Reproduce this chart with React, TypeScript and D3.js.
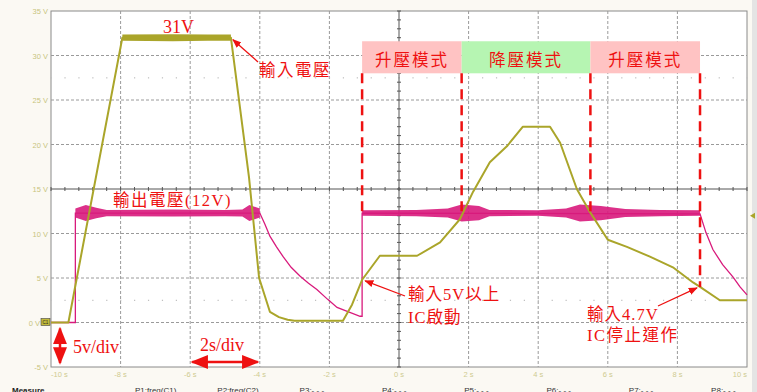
import * as d3 from "d3";

// time (s) / volts
const inputT = [-10, -9.5, -7.95, -4.83, -4.31, -4.02, -3.71, -3.45, -3.2, -3.0, -1.61, -1.35, -1.06, -0.55, 0.52, 1.18, 1.75, 2.13, 2.61, 3.1, 3.56, 4.34, 4.63, 5.11, 5.49, 6.0, 6.55, 7.21, 7.87, 8.45, 8.65, 9.22, 10];
const inputV = [0, 0, 32, 32, 16.3, 5, 1.2, 0.6, 0.3, 0.2, 0.2, 2.0, 4.8, 7.5, 7.5, 9, 11.6, 14.7, 18, 19.8, 22, 22, 20.2, 15, 12.4, 9.3, 8.5, 7.4, 6.2, 4.5, 4.0, 2.5, 2.5];

const outputT = [-10, -9.3, -9.3, -4.0, -3.85, -3.71, -3.52, -3.33, -3.1, -2.84, -2.6, -2.36, -2.05, -1.78, -1.45, -1.12, -1.06, -1.06, 8.65, 8.82, 9.02, 9.3, 9.6, 9.8, 10];
const outputV = [0, 0, 12.3, 12.3, 11.0, 9.7, 8.5, 7.4, 6.2, 5.2, 4.4, 3.7, 2.6, 1.7, 1.2, 0.7, 0.7, 12.3, 12.2, 10.1, 8.2, 6.5, 5.1, 4.0, 3.1];

// noise envelope (half-width in V) on the flat parts
const plateauNoise: [number, number][] = [[-7.95, 0.35], [-6.5, 0.4], [-5.5, 0.35], [-4.83, 0.35]];
const outNoise1: [number, number][] = [[-9.3, 0.5], [-9.0, 0.9], [-8.7, 0.6], [-8.4, 0.35], [-6.5, 0.4], [-5, 0.35], [-4.5, 0.4], [-4.3, 0.9], [-4.0, 0.5]];
const outNoise2: [number, number][] = [[-1.06, 0.3], [0.5, 0.35], [1.4, 0.5], [1.8, 0.95], [2.3, 0.8], [2.6, 0.35], [4.0, 0.3], [4.8, 0.5], [5.2, 0.95], [5.8, 0.8], [6.5, 0.45], [7.5, 0.35], [8.65, 0.3]];

const modes = [
  { label: "升壓模式", start: -1.06, end: 1.8, fill: "#ffc3c3" },
  { label: "降壓模式", start: 1.8, end: 5.5, fill: "#b6f5b2" },
  { label: "升壓模式", start: 5.5, end: 8.65, fill: "#ffc3c3" },
];
const markerStops = [12.3, 11.9, 11.9, 4.0]; // where each dashed marker ends (V)

const xTicks = [-10, -8, -6, -4, -2, 0, 2, 4, 6, 8, 10];
const yTicks = [35, 30, 25, 20, 15, 10, 5, 0, -5];
const measureLabels = ["P1:freq(C1)", "P2:freq(C2)", "P3:- - -", "P4:- - -", "P5:- - -", "P6:- - -", "P7:- - -", "P8:- - -"];

const W = 757, H = 392;
const x = d3.scaleLinear().domain([-10, 10]).range([51, 747]);
const y = d3.scaleLinear().domain([-5, 35]).range([367, 11]);

const YEL = "#aaa52a";
const MAG = "#d81a7c";
const RED = "#ee1111";
const serif = "'Liberation Serif', 'Noto Sans CJK TC', serif";

const line = d3.line<[number, number]>().x(d => x(d[0])).y(d => y(d[1]));
const band = (pts: [number, number][], center: number) =>
  d3.area<[number, number]>().x(d => x(d[0])).y0(d => y(center - d[1])).y1(d => y(center + d[1]))(pts) || "";

export default function App() {
  const inPts = inputT.map((t, i) => [t, inputV[i]] as [number, number]);
  const outPts = outputT.map((t, i) => [t, outputV[i]] as [number, number]);
  const minorX = d3.range(-10, 10.01, 0.4);
  const minorY = d3.range(-5, 35.01, 1);
  const bounds = [modes[0].start, modes[1].start, modes[2].start, modes[2].end];

  return (
    <svg width={W} height={H} style={{ position: "absolute", left: 0, top: 0, background: "#fbf9f3" }} fontFamily="Arial, sans-serif">
      <defs>
        <marker id="ah" viewBox="0 0 10 10" refX="9" refY="5" markerWidth="7" markerHeight="7" orient="auto-start-reverse">
          <path d="M0,1 L10,5 L0,9 z" fill={RED} />
        </marker>
      </defs>
      <rect x={752} y={0} width={5} height={H} fill="#e4e4e4" />
      <rect x={x(-10)} y={y(35)} width={x(10) - x(-10)} height={y(-5) - y(35)} fill="#fff" stroke="#8a8a8a" />

      {/* grid */}
      {xTicks.filter(t => t !== 0 && Math.abs(t) !== 10).map(t => (
        <line key={"gx" + t} x1={x(t)} x2={x(t)} y1={y(35)} y2={y(-5)} stroke="#9a9a9a" strokeDasharray="3,2" />
      ))}
      {yTicks.filter(v => v !== 15 && v !== 35 && v !== -5).map(v => (
        <line key={"gy" + v} x1={x(-10)} x2={x(10)} y1={y(v)} y2={y(v)} stroke="#9a9a9a" strokeDasharray="3,2" />
      ))}
      {[27.5, 2.5].map(v => minorX.map(t => (
        <rect key={"d" + v + t} x={x(t) - 0.5} y={y(v) - 0.5} width={1.2} height={1.2} fill="#bdbdbd" />
      )))}
      <line x1={x(-10)} x2={x(10)} y1={y(15)} y2={y(15)} stroke="#555" />
      <line x1={x(0)} x2={x(0)} y1={y(35)} y2={y(-5)} stroke="#555" />
      {minorX.map(t => <line key={"mx" + t} x1={x(t)} x2={x(t)} y1={y(15) - 2} y2={y(15) + 2} stroke="#555" />)}
      {minorY.map(v => <line key={"my" + v} x1={x(0) - 2} x2={x(0) + 2} y1={y(v)} y2={y(v)} stroke="#555" />)}

      {/* axis labels */}
      {yTicks.map(v => (
        <text key={"yl" + v} x={v === 0 ? 40 : 48} y={y(v) + 3} textAnchor="end" fontSize={7.5} fill="#c8c47e">{v} V</text>
      ))}
      {xTicks.map((t, i) => (
        <text key={"xl" + t} x={x(t)} y={377} fontSize={7.5} fill="#cfcb90"
          textAnchor={i === 0 ? "start" : i === xTicks.length - 1 ? "end" : "middle"}>{t} s</text>
      ))}

      {/* mode boxes */}
      {modes.map((m, i) => (
        <g key={"m" + i}>
          <rect x={x(m.start)} y={y(31.6)} width={x(m.end) - x(m.start)} height={y(28) - y(31.6)} fill={m.fill} />
          <text x={(x(m.start) + x(m.end)) / 2} y={y(28) - 7} textAnchor="middle" fontSize={16.5} letterSpacing={2} fill={RED} fontFamily={serif}>{m.label}</text>
        </g>
      ))}

      {/* traces */}
      <path d={band(outNoise1, 12.3)} fill={MAG} opacity={0.9} />
      <path d={band(outNoise2, 12.3)} fill={MAG} opacity={0.9} />
      <path d={line(outPts) || ""} fill="none" stroke={MAG} strokeWidth={1.3} />
      <path d={band(plateauNoise, 32)} fill={YEL} />
      <path d={line(inPts) || ""} fill="none" stroke={YEL} strokeWidth={2} strokeLinejoin="round" />

      {/* dashed mode markers */}
      {bounds.map((t, i) => (
        <line key={"b" + i} x1={x(t)} x2={x(t)} y1={y(28)} y2={y(markerStops[i])} stroke={RED} strokeWidth={2.5} strokeDasharray="10,6" />
      ))}

      {/* channel markers */}
      <rect x={41} y={y(0) - 4} width={9} height={7} fill="#c2ba3a" stroke="#444" strokeWidth={0.6} />
      <text x={45.5} y={y(0) + 1.5} fontSize={4.5} textAnchor="middle" fill="#222">C1</text>
      <path d={`M${x(10) + 3},${y(12)} l5,-3 v6 z`} fill={YEL} />

      {/* annotations */}
      <g fill={RED} fontFamily={serif}>
        <text x={163} y={33} fontSize={18}>31V</text>
        <text x={259} y={76} fontSize={16.5} letterSpacing={1.5}>輸入電壓</text>
        <text x={113} y={206} fontSize={16.5} letterSpacing={1.5}>輸出電壓(12V)</text>
        <text x={408} y={300} fontSize={16.5} letterSpacing={1}>輸入5V以上</text>
        <text x={408} y={323} fontSize={16.5} letterSpacing={1}>IC啟動</text>
        <text x={587} y={320} fontSize={16.5} letterSpacing={1}>輸入4.7V</text>
        <text x={587} y={341} fontSize={16.5} letterSpacing={1.5}>IC停止運作</text>
        <text x={73} y={353} fontSize={18}>5v/div</text>
        <text x={200} y={351} fontSize={18}>2s/div</text>
      </g>
      <g stroke={RED} strokeWidth={1.3} fill="none">
        <line x1={258} y1={62} x2={x(-4.83) + 2} y2={y(32) + 2} markerEnd="url(#ah)" />
        <line x1={405} y1={296} x2={x(-1.06) + 3} y2={y(4.8) + 1} markerEnd="url(#ah)" />
        <line x1={658} y1={306} x2={x(8.65) - 3} y2={y(4.0) + 1} markerEnd="url(#ah)" />
      </g>
      <g stroke={RED} strokeWidth={2.5} fill="none">
        <line x1={60} x2={60} y1={y(0) + 6} y2={y(-5) - 4} markerStart="url(#ah)" markerEnd="url(#ah)" />
        <line x1={x(-6) + 2} x2={x(-4) - 2} y1={362} y2={362} markerStart="url(#ah)" markerEnd="url(#ah)" />
      </g>

      {/* measure row */}
      <text x={12} y={393} fontSize={8} fontWeight="bold" fill="#222">Measure</text>
      {measureLabels.map((s, i) => (
        <text key={s} x={135 + i * 82.3} y={393} fontSize={8} fill="#333">{s}</text>
      ))}
    </svg>
  );
}
